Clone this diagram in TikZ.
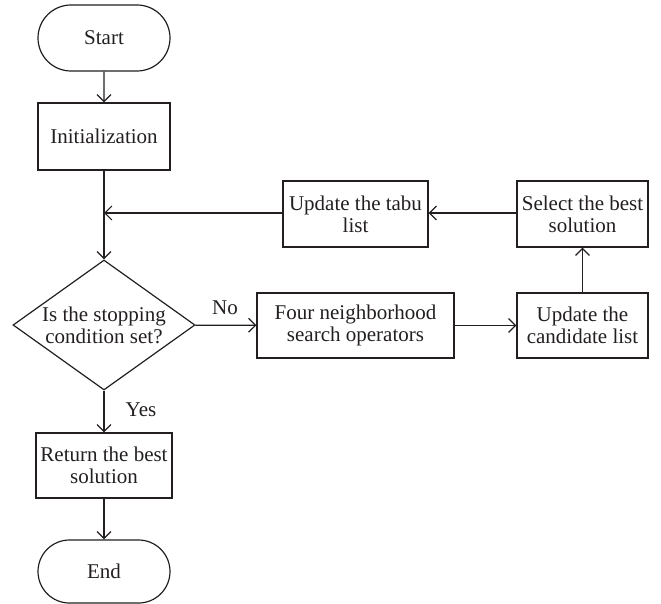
\documentclass[tikz,border=0pt]{standalone}
\usepackage{fontspec}
\setmainfont{Liberation Serif}
\usetikzlibrary{shapes.misc,shapes.geometric,arrows.meta}
\definecolor{ink}{HTML}{231F20}
\begin{document}
\begin{tikzpicture}[x=1pt,y=-1pt,
  every node/.style={text=ink, font=\fontsize{21}{22}\selectfont},
  procbox/.style={draw=ink, line width=1.2pt, rectangle, align=center, inner sep=0pt},
  termbox/.style={draw=ink, line width=1.2pt, rounded rectangle, inner sep=0pt, minimum width=132pt},
  decbox/.style={draw=ink, line width=1.2pt, diamond, inner sep=0pt, align=center, minimum width=182pt, minimum height=130pt},
  conn/.style={draw=ink, line width=1.2pt},
  arr/.style={conn, -{Straight Barb[length=7pt,width=14pt,line width=1.2pt]}}]
\useasboundingbox (0,0) rectangle (661,604);
\node[termbox, minimum height=66pt] (start) at (104,38) {Start};
\node[procbox, minimum width=132pt, minimum height=67pt] (init) at (104,136.5) {Initialization};
\node[decbox] (dec) at (104,325) {\makebox[0pt]{Is the stopping}\\\makebox[0pt]{condition set?}};
\node[procbox, minimum width=145pt, minimum height=66pt] (tabu) at (355.5,214) {Update the tabu\\list};
\node[procbox, minimum width=131pt, minimum height=66pt] (sel) at (582.5,214) {Select the best\\solution};
\node[procbox, minimum width=197pt, minimum height=65pt] (four) at (355.5,325.5) {Four neighborhood\\search operators};
\node[procbox, minimum width=131pt, minimum height=65pt] (cand) at (582.5,325.5) {Update the\\candidate list};
\node[procbox, minimum width=136pt, minimum height=65pt] (ret) at (104,465.5) {Return the best\\solution};
\node[termbox, minimum height=63pt] (end) at (104,571.5) {End};
\coordinate (join) at (104,213);
\node (no) at (225,308) {No};
\node (yes) at (141,410) {Yes};
\draw[arr] (start) -- (init);
\draw[arr] (init) -- (dec);
\draw[arr] (tabu.west |- join) -- (join);
\draw[arr] (sel.west |- join) -- (tabu.east |- join);
\draw[arr] (dec) -- (four);
\draw[arr] (four) -- (cand);
\draw[arr] (cand) -- (sel);
\draw[arr] (dec) -- (ret);
\draw[arr] (ret) -- (end);
\end{tikzpicture}
\end{document}
